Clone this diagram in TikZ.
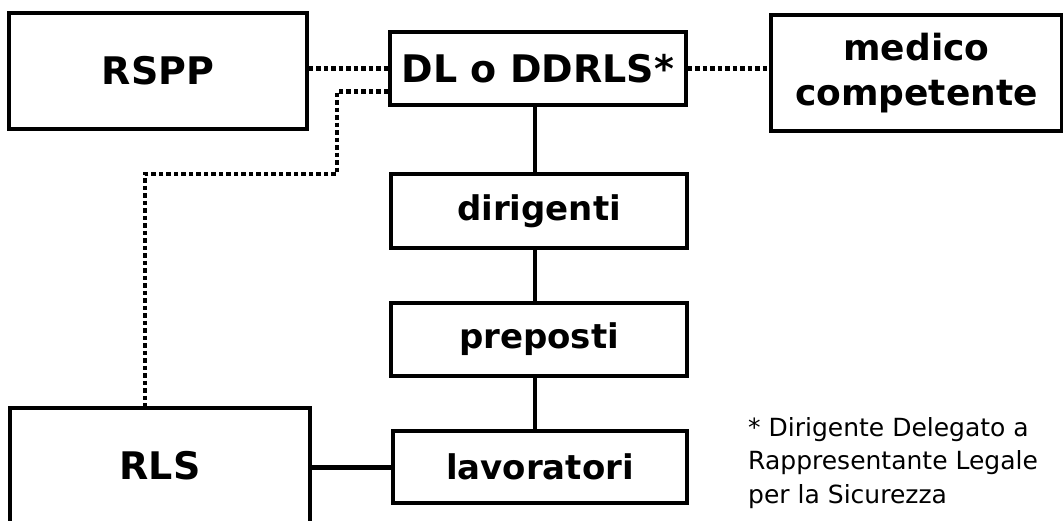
\documentclass[tikz,border=0pt]{standalone}
\usepackage{fontspec}
\setmainfont{DejaVu Sans}
\usepackage{xcolor}
\usetikzlibrary{positioning,calc}
\definecolor{Ink}{RGB}{0,0,0}

\begin{document}
\begin{tikzpicture}[x=1pt, y=-1pt,
    role/.style={rectangle, draw=Ink, line width=3.2pt, align=center, inner sep=0pt,
                 font=\fontsize{34}{45}\selectfont\bfseries, text=Ink},
    bigrole/.style={role, font=\fontsize{38}{45}\selectfont\bfseries},
    link/.style={line width=3.4pt, Ink},
    dotlink/.style={line width=4.6pt, Ink, dash pattern=on 4.5pt off 3pt},
    note/.style={align=left, anchor=north west, inner sep=0pt,
                 font=\fontsize{25}{33.5}\selectfont, text=Ink},
]
\clip (0,0) rectangle (1063,520);
\node[bigrole, minimum width=298pt, minimum height=116pt] (rspp) at (158,71) {RSPP};
\node[bigrole, minimum width=296pt, minimum height=73pt] (dl) at (538,68.5) {DL o DDRLS*};
\node[role, font=\fontsize{36}{45}\selectfont\bfseries, minimum width=291pt, minimum height=116pt] (medico) at (916.5,73) {medico\\competente};
\node[role, minimum width=296pt, minimum height=74pt] (dir) at (539,211) {dirigenti};
\node[role, minimum width=296pt, minimum height=73pt] (prep) at (539,339.5) {preposti};
\node[role, minimum width=294pt, minimum height=72pt] (lav) at (540,467) {lavoratori};
\node[bigrole, minimum width=300pt, minimum height=116pt] (rls) at (160,466) {RLS};

\node[note] (fn) at (748,417) {* Dirigente Delegato a\\Rappresentante Legale\\per la Sicurezza};

% line of command
\draw[link] ([xshift=-3pt]dl.south) -- ([xshift=-3pt]dl.south |- dir.north);
\draw[link] ([xshift=-4pt]dir.south) -- ([xshift=-4pt]dir.south |- prep.north);
\draw[link] ([xshift=-4pt]prep.south) -- ([xshift=-4pt]prep.south |- lav.north);
\draw[link, line width=5pt] (rls.east |- lav.west) -- (lav.west);

% consultation
\coordinate (bend) at (337,174);
\draw[dotlink] (rspp.east |- dl.west) -- (dl.west);
\draw[dotlink] (dl.east) -- (medico.west |- dl.east);
\draw[dotlink] ($(dl.west)+(0,23)$) -| (bend) -| ($(rls.north)+(-15,0)$);
\end{tikzpicture}
\end{document}
